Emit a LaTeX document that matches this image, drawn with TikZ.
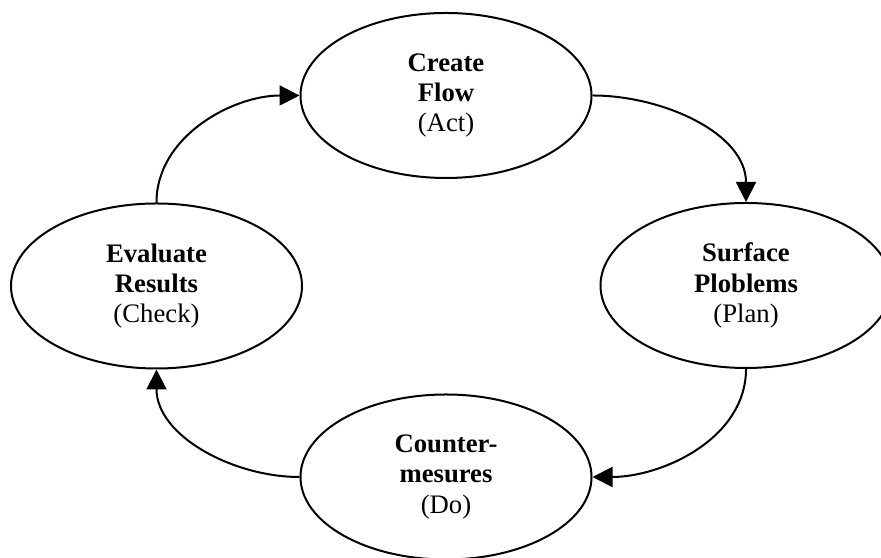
\documentclass[tikz,border=0pt]{standalone}
\usepackage{fontspec}
\setmainfont{Liberation Serif}
\usetikzlibrary{shapes.geometric,arrows.meta}

\tikzset{
  stage/.style={draw, ellipse, line width=0.57pt, minimum width=2.91cm,
    minimum height=1.65cm, inner sep=0pt, align=center,
    font=\fontsize{7.6}{8.6}\selectfont},
  cycle/.style={line width=0.57pt, -{Triangle[length=2mm,width=2mm]}}
}

\begin{document}
\begin{tikzpicture}
      \useasboundingbox (0, 0) rectangle (8.81, 5.58);
      \node[stage] (act) at (4.46, 4.625) {\textbf{Create}\\\textbf{Flow}\\(Act)};
      \node[stage] (plan) at (7.46, 2.725) {\textbf{Surface}\\\textbf{Ploblems}\\(Plan)};
      \node[stage] (do) at (4.46, 0.81) {\textbf{Counter-}\\\textbf{mesures}\\(Do)};
      \node[stage] (check) at (1.565, 2.72) {\textbf{Evaluate}\\\textbf{Results}\\(Check)};
      \draw[cycle] (act.east) to[out=0, in=90, looseness=0.95] (plan.north);
      \draw[cycle] (plan.south) to[out=-90, in=0, looseness=0.95] (do.east);
      \draw[cycle] (do.west) to[out=180, in=-90, looseness=0.95] (check.south);
      \draw[cycle] (check.north) to[out=90, in=180, looseness=0.95] (act.west);
    \end{tikzpicture}
\end{document}
